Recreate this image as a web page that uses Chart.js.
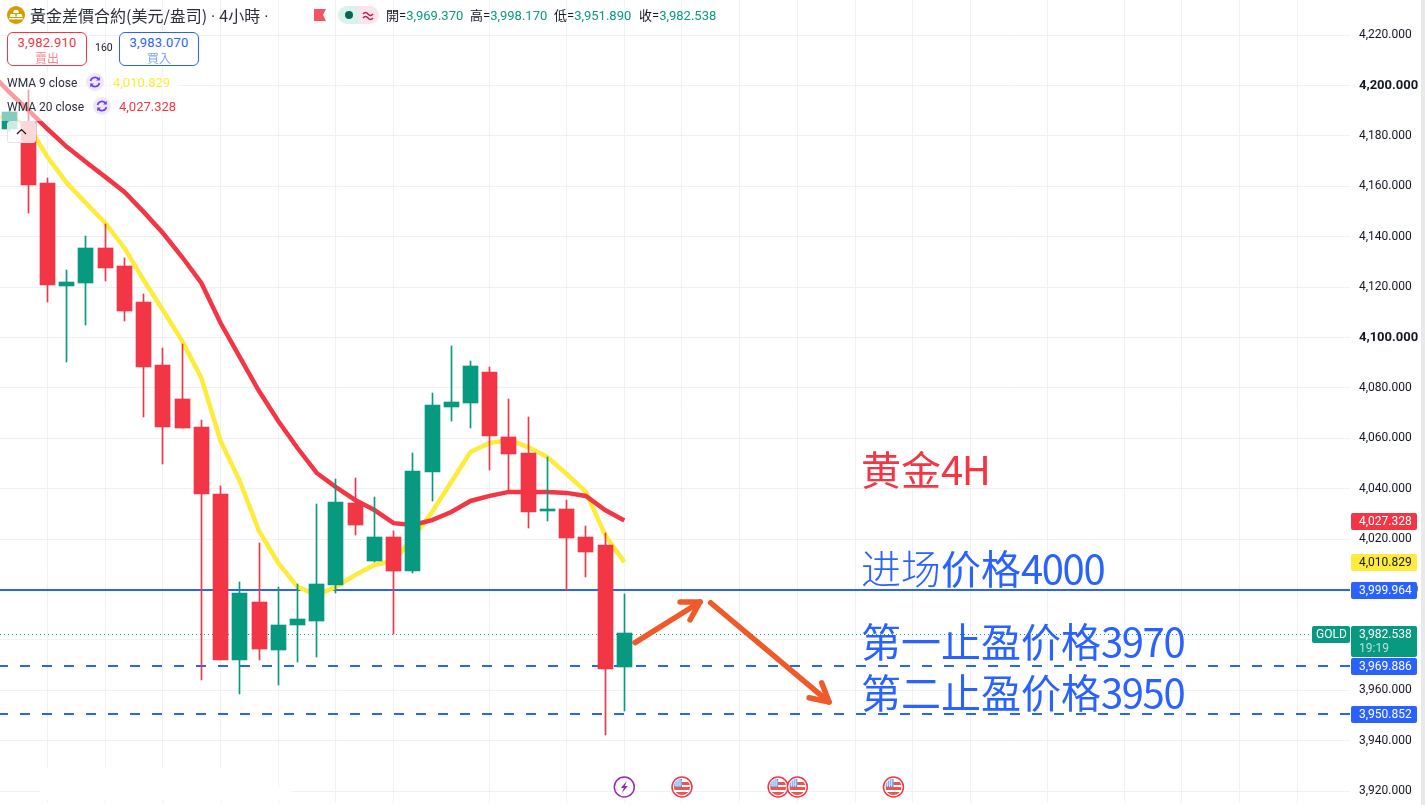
<!DOCTYPE html>
<html>
<head>
<meta charset="utf-8">
<title>黃金差價合約 4小時</title>
<script src="https://cdn.jsdelivr.net/npm/chart.js@4/dist/chart.umd.js"></script>
<style>
	html, body { margin: 0; padding: 0; width: 1425px; height: 805px; overflow: hidden; background: #fff; }
	body { font-family: Roboto, "Noto Sans CJK TC", sans-serif; color: #131722; position: relative; }
	#chart { position: absolute; left: 0; top: 0; }
	#strip { position: absolute; left: 1421px; top: 0; width: 4px; height: 805px; background: #e9e9ea; }
	.abs { position: absolute; white-space: nowrap; }
	.title { left: 30px; top: 4px; font: 16px/22px "Noto Sans CJK TC", sans-serif; color: #2a2e39; }
	.title span { font-family: Roboto, sans-serif; margin: 0 4px; }
	.ohlc { top: 7px; font: 13px/18px Roboto, "Noto Sans CJK TC", sans-serif; color: #131722; }
	.ohlc b { font-weight: 400; color: #089981; }
	.box { top: 32px; width: 78px; height: 32px; border: 1px solid; border-radius: 6px; background: #fff; text-align: center; }
	.box div { font: 13px/17px Roboto, sans-serif; margin-top: 1px; letter-spacing: .2px; }
	.box span { display: block; font: 12px/14px "Noto Sans CJK TC", sans-serif; opacity: .6; }
	.wma { left: 7px; font: 12px/18px Roboto, sans-serif; color: #2a2e39; }
	.note { font: 40px/40px "Noto Sans CJK SC", sans-serif; }
	.note i { font-style: normal; letter-spacing: -1.4px; }
	.note u { text-decoration: none; font-weight: 300; }
</style>
</head>
<body>
<canvas id="chart" width="1421" height="803"></canvas>
<div id="strip"></div>

<!-- white patches where the page hides the bottom of the grid -->
<div class="abs" style="left:40px;top:768px;width:230px;height:32px;background:#fff"></div>
<div class="abs" style="left:270px;top:787px;width:22px;height:13px;background:#fff"></div>

<!-- legend fades what is under it -->
<div class="abs" style="left:0;top:72px;width:180px;height:49px;background:rgba(255,255,255,.5)"></div>
<div class="abs" style="left:7px;top:121px;width:27px;height:20px;border:1px solid #e0e3eb;border-radius:3px;background:rgba(255,255,255,.8)">
	<svg width="27" height="20"><path d="M9 12 L13.5 7.5 L18 12" fill="none" stroke="#131722" stroke-width="1.2"/></svg>
</div>

<svg class="abs" style="left:6px;top:5px" width="20" height="20">
	<circle cx="10" cy="10" r="9" fill="#d89c00"/>
	<path d="M8 5 h4 l1 3 h-6 z M4.5 9 h4.5 l.7 3 h-6 z M11 9 h4.5 l1 3 h-6 z" fill="#fff"/>
	<rect x="3" y="13" width="14" height="1.4" fill="#fff"/>
</svg>
<div class="abs title">黃金差價合約(美元/盎司)<span>·</span>4小時<span>·</span></div>
<svg class="abs" style="left:314px;top:9px" width="13" height="12"><path d="M0 0 H12 L9 6 L12 12 H0 Z" fill="#f7525f"/></svg>
<svg class="abs" style="left:338px;top:6px" width="41" height="18">
	<path d="M9 0 H20 V18 H9 A9 9 0 0 1 9 0 Z" fill="#daf1ec"/>
	<path d="M20 0 H32 A9 9 0 0 1 32 18 H20 Z" fill="#fce4ec"/>
	<circle cx="11" cy="9" r="4" fill="#056656"/>
	<path d="M25 8 q2.5 -3 5 0 t5 0 M25 12 q2.5 -3 5 0 t5 0" fill="none" stroke="#c2185b" stroke-width="1.5"/>
</svg>
<div class="abs ohlc" style="left:386px">開=<b>3,969.370</b></div>
<div class="abs ohlc" style="left:470px">高=<b>3,998.170</b></div>
<div class="abs ohlc" style="left:554px">低=<b>3,951.890</b></div>
<div class="abs ohlc" style="left:639px">收=<b>3,982.538</b></div>

<div class="abs box" style="left:7px;border-color:#f23645;color:#f23645"><div>3,982.910</div><span>賣出</span></div>
<div class="abs" style="left:95px;top:41px;font:10.5px/14px Roboto,sans-serif">160</div>
<div class="abs box" style="left:119px;border-color:#2962ff;color:#2962ff"><div>3,983.070</div><span>買入</span></div>

<div class="abs wma" style="top:74px">WMA 9 close</div>
<svg class="abs" style="left:86px;top:73px" width="18" height="18">
	<circle cx="9" cy="9" r="9" fill="#ede7f6"/>
	<path d="M4.5 8 A4.7 4.7 0 0 1 13 6.5 M13.5 10 A4.7 4.7 0 0 1 5 11.5" fill="none" stroke="#6a3cf0" stroke-width="1.6"/>
	<path d="M13.8 3.8 V7.4 H10.2 Z M4.2 14.2 V10.6 H7.8 Z" fill="#6a3cf0"/>
</svg>
<div class="abs" style="left:113px;top:74px;font:13px/18px Roboto,sans-serif;color:#ffeb3b">4,010.829</div>
<div class="abs wma" style="top:98px">WMA 20 close</div>
<svg class="abs" style="left:93px;top:97px" width="18" height="18">
	<circle cx="9" cy="9" r="9" fill="#ede7f6"/>
	<path d="M4.5 8 A4.7 4.7 0 0 1 13 6.5 M13.5 10 A4.7 4.7 0 0 1 5 11.5" fill="none" stroke="#6a3cf0" stroke-width="1.6"/>
	<path d="M13.8 3.8 V7.4 H10.2 Z M4.2 14.2 V10.6 H7.8 Z" fill="#6a3cf0"/>
</svg>
<div class="abs" style="left:119px;top:98px;font:13px/18px Roboto,sans-serif;color:#f23645">4,027.328</div>

<!-- hand written notes on the chart -->
<div class="abs note" style="left:861px;top:448px;color:#f23645">黄金<i>4H</i></div>
<div class="abs note" style="left:861px;top:547px;color:#2962ff"><u>进场</u>价格<i>4000</i></div>
<div class="abs note" style="left:861px;top:620px;color:#2962ff">第一止盈价格<i>3970</i></div>
<div class="abs note" style="left:861px;top:671px;color:#2962ff">第二止盈价格<i>3950</i></div>

<script>
//candles, one entry per 4 hour bar
const open_prices = [4182.7, 4185.5, 4161.3, 4120.4, 4121.6, 4135.5, 4128.3, 4114.0, 4089.0, 4075.6, 4064.4, 4037.9, 3972.0, 3995.0, 3976.0, 3985.9, 3987.5, 4001.7, 4034.3, 4011.3, 4020.8, 4007.3, 4046.6, 4072.4, 4074.0, 4086.3, 4060.5, 4054.1, 4031.1, 4031.9, 4020.8, 4017.6, 3969.37]
const close_prices = [4189.4, 4160.6, 4120.8, 4122.0, 4135.5, 4127.5, 4110.5, 4088.3, 4064.4, 4064.0, 4037.9, 3972.0, 3998.6, 3976.3, 3985.9, 3988.3, 4002.1, 4034.7, 4025.6, 4020.8, 4007.3, 4047.0, 4073.2, 4074.4, 4088.7, 4060.9, 4053.7, 4030.7, 4031.9, 4020.4, 4014.8, 3968.4, 3982.538]
const high_prices = [4190.0, 4198.2, 4163.3, 4126.7, 4140.2, 4145.0, 4131.5, 4117.2, 4095.8, 4097.4, 4067.2, 4041.0, 4003.0, 4018.4, 4001.0, 4002.1, 4034.0, 4043.8, 4044.2, 4036.7, 4023.2, 4054.1, 4077.9, 4096.6, 4090.6, 4088.3, 4075.6, 4068.4, 4052.5, 4035.5, 4025.2, 4022.4, 3998.17]
const low_prices = [4182.0, 4149.5, 4114.0, 4090.2, 4104.9, 4122.4, 4106.5, 4068.4, 4049.8, 4064.0, 3964.0, 3972.0, 3958.5, 3972.0, 3962.1, 3971.2, 3973.2, 3998.6, 4021.6, 4010.9, 3982.3, 4006.5, 4035.1, 4066.8, 4064.0, 4047.4, 4039.4, 4024.4, 4027.1, 3999.8, 4004.9, 3942.2, 3951.89]

//moving averages, they start one bar left of the first candle
const wma_start = -1
const wma_9 = [4187.9, 4187.1, 4183.9, 4171.6, 4161.3, 4153.3, 4145.4, 4135.5, 4122.8, 4110.9, 4098.6, 4083.9, 4058.9, 4043.0, 4023.2, 4010.5, 4001.0, 3997.8, 4001.0, 4005.7, 4009.7, 4011.3, 4020.4, 4030.7, 4042.6, 4054.5, 4058.1, 4059.3, 4056.5, 4052.5, 4045.8, 4038.7, 4021.6, 4010.829]
const wma_20 = [4205.3, 4197.4, 4190.2, 4182.7, 4175.6, 4169.6, 4163.7, 4157.7, 4149.8, 4141.4, 4131.9, 4121.6, 4105.7, 4092.2, 4078.7, 4066.8, 4056.1, 4046.2, 4040.6, 4035.5, 4031.5, 4026.3, 4025.6, 4027.5, 4030.7, 4035.1, 4037.1, 4038.7, 4038.7, 4038.7, 4038.3, 4037.1, 4031.5, 4027.328]

//price levels
const entry_level = 3999.964
const target_levels = [3969.886, 3950.852]
const last_price = 3982.538

//price tags on the right axis
const tag_values = [4027.328, 4010.829, 3999.964, 3982.538, 3969.886, 3950.852]
const tag_fills = ['#f23645', '#ffeb3b', '#2962ff', '#089981', '#2962ff', '#2962ff']
const tag_inks = ['#ffffff', '#131722', '#ffffff', '#ffffff', '#ffffff', '#ffffff']
const tag_notes = ['', '', '', '19:19', '', '']

//arrows drawn by hand, x is in bars and y is price
const arrow_up_x = [32.56, 35.94]
const arrow_up_y = [3978.9, 3995.0]
const arrow_up_head_x = [34.90, 35.94, 35.42]
const arrow_up_head_y = [3995.0, 3995.0, 3987.9]
const arrow_down_x = [36.49, 42.65]
const arrow_down_y = [3994.7, 3955.3]
const arrow_down_head_x = [42.27, 42.65, 41.61]
const arrow_down_head_y = [3962.9, 3955.3, 3957.0]

//bars that carry a vertical grid line or an event badge
const grid_bars = [2, 5, 8, 11, 14, 17, 20, 25, 29, 32, 35, 38, 41, 44, 47, 50, 54, 58, 61, 64, 67]
const flash_bars = [32]
const flag_bars = [35, 40, 41, 46]

const x_min = -0.4718
const x_max = 69.745
const y_min = 3915.24
const y_max = 4233.89

const up_color = '#089981'
const down_color = '#f23645'
const blue = '#2962ff'
const orange = '#f05a28'

function price_text(value) {
	return value.toLocaleString('en-US', { minimumFractionDigits: 3, maximumFractionDigits: 3 })
}

function to_points(xs, ys) {
	return xs.map((x, i) => ({ x: x, y: ys[i] }))
}

function line_set(points, color, width, order, extra) {
	return Object.assign({
		type: 'line',
		data: points,
		borderColor: color,
		borderWidth: width,
		pointRadius: 0,
		tension: 0,
		fill: false,
		order: order
	}, extra || {})
}

const candle_colors = close_prices.map((c, i) => c >= open_prices[i] ? up_color : down_color)
const arrow_style = { borderCapStyle: 'round', borderJoinStyle: 'round' }
const dashed_style = { borderDash: [10, 12], borderDashOffset: 2, snap_row: 0 }

//the reference has crisp candles and levels so put them on whole pixels
const snap_marks = {
	id: 'snap_marks',
	afterDatasetsUpdate(chart) {
		chart.data.datasets.forEach((set, i) => {
			const marks = chart.getDatasetMeta(i).data
			if (set.type === 'bar') {
				marks.forEach(bar => {
					bar.x = Math.floor(bar.x) + 0.5
					bar.y = Math.round(bar.y)
					bar.base = Math.round(bar.base)
				})
			}
			if (set.snap_row !== undefined) {
				marks.forEach(point => {
					point.y = Math.round(point.y + 0.3) + set.snap_row
				})
			}
		})
	}
}

function draw_tag(ctx, left, top, width, height, fill) {
	ctx.fillStyle = fill
	ctx.beginPath()
	ctx.roundRect(left, top, width, height, 2)
	ctx.fill()
}

function draw_flash(ctx, x, y) {
	ctx.fillStyle = '#ffffff'
	ctx.strokeStyle = '#9c27b0'
	ctx.lineWidth = 1.5
	ctx.beginPath()
	ctx.arc(x, y, 10, 0, Math.PI * 2)
	ctx.fill()
	ctx.stroke()
	ctx.fillStyle = '#9c27b0'
	ctx.beginPath()
	ctx.moveTo(x + 2.5, y - 6)
	ctx.lineTo(x - 3.5, y + 1)
	ctx.lineTo(x - 0.5, y + 1)
	ctx.lineTo(x - 2.5, y + 6)
	ctx.lineTo(x + 3.5, y - 1)
	ctx.lineTo(x + 0.5, y - 1)
	ctx.closePath()
	ctx.fill()
}

function draw_flag(ctx, x, y) {
	ctx.save()
	ctx.fillStyle = '#ffffff'
	ctx.beginPath()
	ctx.arc(x, y, 10, 0, Math.PI * 2)
	ctx.fill()
	ctx.beginPath()
	ctx.arc(x, y, 8, 0, Math.PI * 2)
	ctx.clip()
	ctx.fillStyle = '#ef5350'
	ctx.fillRect(x - 8, y - 5, 16, 3)
	ctx.fillRect(x - 8, y + 0, 16, 3)
	ctx.fillRect(x - 8, y + 5, 16, 4)
	ctx.fillStyle = '#2f8fe8'
	ctx.fillRect(x - 8, y - 8, 8, 8)
	ctx.strokeStyle = '#ffffff'
	ctx.lineWidth = 0.7
	for (let i = 1; i < 4; i++) {
		ctx.beginPath()
		ctx.moveTo(x - 8 + i * 2, y - 8)
		ctx.lineTo(x - 8 + i * 2, y)
		ctx.moveTo(x - 8, y - 8 + i * 2)
		ctx.lineTo(x, y - 8 + i * 2)
		ctx.stroke()
	}
	ctx.restore()
	ctx.strokeStyle = '#f23645'
	ctx.lineWidth = 1.5
	ctx.beginPath()
	ctx.arc(x, y, 10, 0, Math.PI * 2)
	ctx.stroke()
}

//tags on the price axis and the event badges along the bottom
const overlays = {
	id: 'overlays',
	afterDraw(chart) {
		const ctx = chart.ctx
		const y_scale = chart.scales.y
		const x_scale = chart.scales.x
		const left = y_scale.left + 1
		ctx.save()
		ctx.textAlign = 'left'
		ctx.textBaseline = 'middle'
		tag_values.forEach((value, i) => {
			const top = Math.round(y_scale.getPixelForValue(value) + 0.3) - 8
			const note = tag_notes[i]
			draw_tag(ctx, left, top, 66, note ? 31 : 17, tag_fills[i])
			ctx.font = '12px Roboto'
			ctx.fillStyle = tag_inks[i]
			ctx.fillText(price_text(value), left + 8, top + 9)
			if (note) {
				ctx.fillStyle = 'rgba(255,255,255,0.7)'
				ctx.fillText(note, left + 8, top + 23)
				draw_tag(ctx, left - 39, top, 38, 17, tag_fills[i])
				ctx.fillStyle = tag_inks[i]
				ctx.fillText('GOLD', left - 35, top + 9)
			}
		})
		flash_bars.forEach(bar => draw_flash(ctx, x_scale.getPixelForValue(bar), 787))
		flag_bars.forEach(bar => draw_flag(ctx, x_scale.getPixelForValue(bar), 787))
		ctx.restore()
	}
}

const graph = document.getElementById('chart')

const myChart = new Chart(graph, {
	type: 'bar',
	data: {
		datasets: [
			//bodies go on top of wicks, wicks on top of the lines
			{
				type: 'bar',
				data: open_prices.map((o, i) => ({ x: i, y: [o, close_prices[i]] })),
				backgroundColor: candle_colors,
				barThickness: 15,
				grouped: false,
				order: 1
			},
			{
				type: 'bar',
				data: high_prices.map((h, i) => ({ x: i, y: [low_prices[i], h] })),
				backgroundColor: candle_colors,
				barThickness: 1,
				grouped: false,
				order: 2
			},
			line_set(wma_9.map((v, i) => ({ x: i + wma_start, y: v })), '#ffeb3b', 4.5, 4),
			line_set(wma_20.map((v, i) => ({ x: i + wma_start, y: v })), '#f23645', 4.5, 3),
			line_set(to_points([x_min, x_max], [entry_level, entry_level]), blue, 2, 5, { snap_row: 0 }),
			line_set(to_points([x_min, x_max], [target_levels[0], target_levels[0]]), blue, 2, 5, dashed_style),
			line_set(to_points([x_min, x_max], [target_levels[1], target_levels[1]]), blue, 2, 5, dashed_style),
			line_set(to_points([x_min, x_max], [last_price, last_price]), up_color, 1, 6, { borderDash: [1, 3], snap_row: 0.5 }),
			line_set(to_points(arrow_up_x, arrow_up_y), orange, 5.5, 0, arrow_style),
			line_set(to_points(arrow_up_head_x, arrow_up_head_y), orange, 5.5, 0, arrow_style),
			line_set(to_points(arrow_down_x, arrow_down_y), orange, 5.5, 0, arrow_style),
			line_set(to_points(arrow_down_head_x, arrow_down_head_y), orange, 5.5, 0, arrow_style)
		]
	},
	options: {
		responsive: false,
		animation: false,
		events: [],
		layout: { padding: 0 },
		plugins: { legend: { display: false }, tooltip: { enabled: false } },
		scales: {
			x: {
				type: 'linear',
				min: x_min,
				max: x_max,
				offset: false,
				afterBuildTicks: scale => { scale.ticks = grid_bars.map(bar => ({ value: bar })) },
				//no room for the axis itself, only its grid lines
				afterFit: scale => {
					scale.height = 0
					scale.paddingLeft = 0
					scale.paddingRight = 0
				},
				ticks: { display: false, autoSkip: false },
				grid: { color: '#f0f1f4', drawTicks: false, offset: false },
				border: { display: false }
			},
			y: {
				type: 'linear',
				position: 'right',
				min: y_min,
				max: y_max,
				afterFit: scale => {
					scale.width = 71
					scale.paddingTop = 0
					scale.paddingBottom = 0
				},
				grid: { color: '#f0f1f4', drawTicks: false },
				border: { display: false },
				ticks: {
					stepSize: 20,
					includeBounds: false,
					padding: 9,
					color: '#131722',
					callback: value => price_text(value),
					font: ctx => ctx.tick && ctx.tick.value % 100 === 0
						? { family: 'Roboto', size: 13, weight: 'bold' }
						: { family: 'Roboto', size: 12 }
				}
			}
		}
	},
	plugins: [snap_marks, overlays]
})
</script>
</body>
</html>
